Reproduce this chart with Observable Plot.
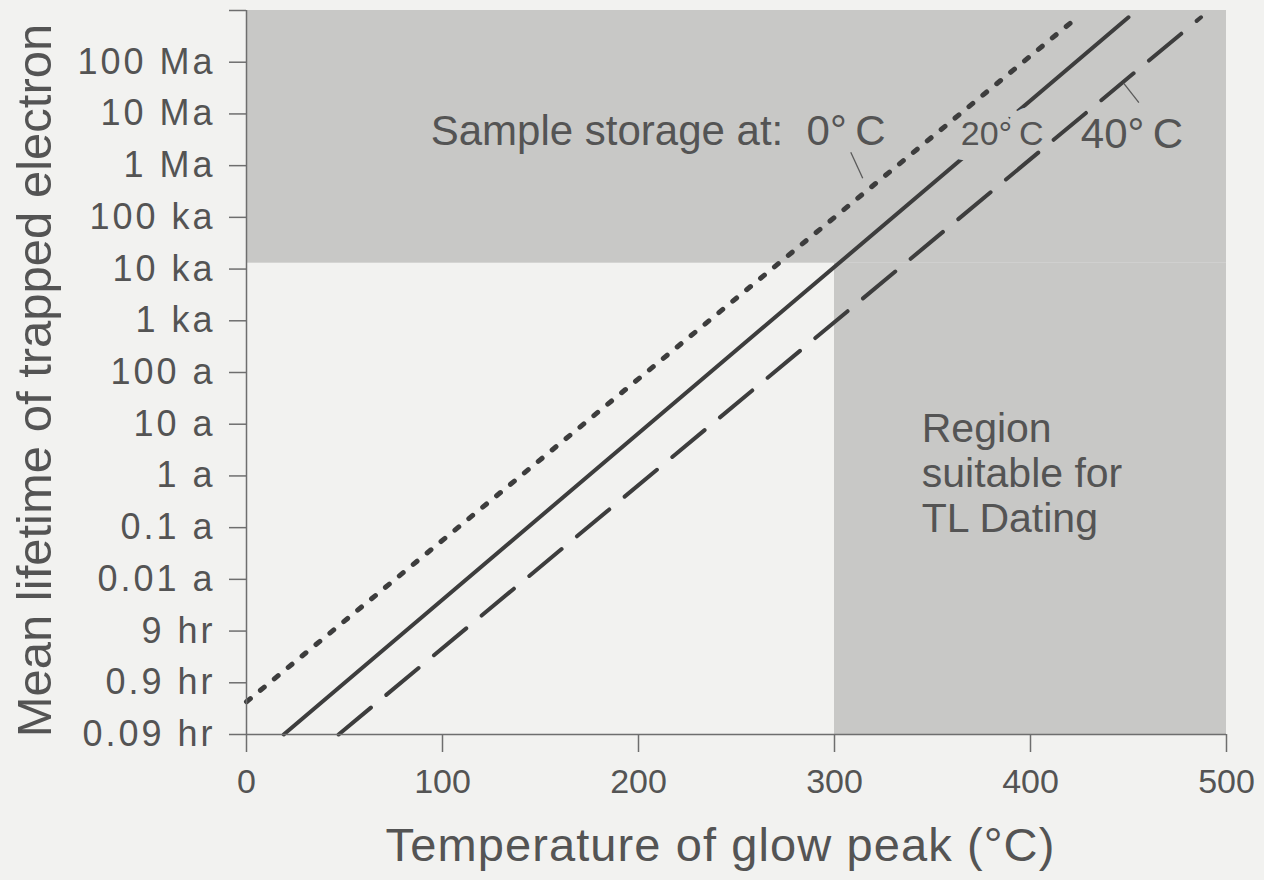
<!DOCTYPE html>
<html><head><meta charset="utf-8">
<script src="https://cdn.jsdelivr.net/npm/d3@7"></script>
<script src="https://cdn.jsdelivr.net/npm/@observablehq/plot@0.6"></script>
<style>
html,body{margin:0;padding:0;background:#f2f2f0;}
#chart svg{display:block;}
g[aria-label="y-axis tick label"]{letter-spacing:3px;}
</style></head><body><div id="chart"></div>
<script>
// ---- data ----
const yTickValues = [1e-5, 1e-4, 1e-3, 1e-2, 1e-1, 1, 10, 100, 1e3, 1e4, 1e5, 1e6, 1e7, 1e8, 1e9];
const yTickLabels = ["0.09 hr", "0.9 hr", "9 hr", "0.01 a", "0.1 a", "1 a", "10 a", "100 a", "1 ka", "10 ka", "100 ka", "1 Ma", "10 Ma", "100 Ma", ""];
const xTickValues = [0, 100, 200, 300, 400, 500];

// storage temperature curves (straight in log space): start and end points
const seriesNames = ["0°C", "20°C", "40°C"];
const startTemp = [0, 19, 47];
const startLife = [4.3e-5, 1e-5, 1e-5];
const endTemp = [421, 450, 487];
const endLife = [6.0e8, 7.4e8, 7.4e8];

// shaded regions
const shadeT1 = [0, 300];
const shadeT2 = [500, 500];
const shadeLife1 = [1.3e4, 1e-5];
const shadeLife2 = [1e9, 1.3e4];

// annotation labels
const annoText = ["Sample storage at:  0°\u2009C", "20°\u2009C", "40°\u2009C", "Region\nsuitable for\nTL Dating"];
const annoTemp = [94, 364.4, 425.7, 344.5];
const annoLife = [2.47e6, 2.47e6, 2.2e6, 0.0807];

// leader lines
const leaderT1 = [308.3, 447.6];
const leaderLife1 = [1.81e6, 3.9e7];
const leaderT2 = [314.4, 455.3];
const leaderLife2 = [5.7e5, 1.66e7];

const xLabel = "Temperature of glow peak (°C)";
const yLabel = "Mean lifetime of trapped electron";

// ---- build ----
const lineRows = seriesNames.map((s, i) => [
  {s, t: startTemp[i], life: startLife[i]},
  {s, t: endTemp[i], life: endLife[i]}
]);
const FONT = "'Liberation Sans', Arial, Helvetica, sans-serif";
const LINE = "#3d3d3d";
const TEXT = "#545454";
const SHADE = "#c8c8c6";
const AXIS = "#6e6e6e";

const chart = Plot.plot({
  width: 1264,
  height: 880,
  marginLeft: 246,
  marginRight: 38,
  marginTop: 10,
  marginBottom: 146,
  style: {fontFamily: FONT, background: "#f2f2f0", color: TEXT, overflow: "visible"},
  x: {domain: [0, 500]},
  y: {type: "log", domain: [1e-5, 1e9]},
  marks: [
    Plot.rect([0, 1], {x1: i => shadeT1[i], x2: i => shadeT2[i], y1: i => shadeLife1[i], y2: i => shadeLife2[i], fill: SHADE}),
    Plot.line(lineRows[1], {x: "t", y: "life", stroke: LINE, strokeWidth: 4}),
    Plot.text([1], {x: i => annoTemp[i], y: i => annoLife[i], text: i => annoText[i], fontSize: 34, textAnchor: "start", lineAnchor: "bottom",
      fill: TEXT, stroke: SHADE, strokeWidth: 30, strokeLinejoin: "round"}),
    Plot.line(lineRows[0], {x: "t", y: "life", stroke: LINE, strokeWidth: 5, strokeDasharray: "5,13"}),
    Plot.line(lineRows[2], {x: "t", y: "life", stroke: LINE, strokeWidth: 4, strokeDasharray: "42,20"}),
    Plot.link([0, 1], {x1: i => leaderT1[i], y1: i => leaderLife1[i], x2: i => leaderT2[i], y2: i => leaderLife2[i], stroke: "#5a5a5a", strokeWidth: 1.3}),
    Plot.text([0, 2], {x: i => annoTemp[i], y: i => annoLife[i], text: i => annoText[i], fontSize: 42, textAnchor: "start", lineAnchor: "bottom", fill: TEXT}),
    Plot.text([3], {x: i => annoTemp[i], y: i => annoLife[i], text: i => annoText[i], fontSize: 41, lineHeight: 1.1, textAnchor: "start", lineAnchor: "bottom", fill: TEXT}),
    Plot.ruleX([0], {stroke: AXIS, strokeWidth: 1.5}),
    Plot.ruleY([1e-5], {stroke: AXIS, strokeWidth: 1.5}),
    Plot.axisY({ticks: yTickValues, tickFormat: d => yTickLabels[yTickValues.indexOf(d)], tickSize: 17, tickPadding: 14, fontSize: 36, label: null, stroke: AXIS, strokeWidth: 1.5, fill: TEXT}),
    Plot.axisX({ticks: xTickValues, tickFormat: d => String(d), tickSize: 18, tickPadding: 16, fontSize: 34, label: null, stroke: AXIS, strokeWidth: 1.5, fill: TEXT}),
    Plot.text([xLabel], {frameAnchor: "bottom", textAnchor: "middle", dx: -16, dy: 126, fontSize: 47, lineAnchor: "bottom", fill: TEXT}),
    Plot.text([yLabel], {frameAnchor: "left", textAnchor: "middle", dx: -196, dy: 8, rotate: -90, fontSize: 49, lineAnchor: "bottom", fill: TEXT})
  ]
});
d3.select(chart).selectAll("text").filter(function() { return this.textContent === xLabel; }).attr("letter-spacing", "1.1px");
document.getElementById("chart").appendChild(chart);
</script></body></html>
